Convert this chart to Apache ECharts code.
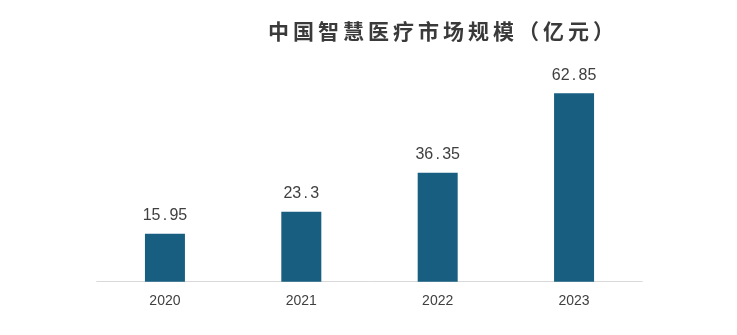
<!DOCTYPE html>
<html>
<head>
<meta charset="utf-8">
<script src="https://cdn.jsdelivr.net/npm/echarts@6/dist/echarts.min.js"></script>
<style>
  html, body { margin: 0; padding: 0; background: #fff; }
  #chart { width: 737px; height: 335px; }
</style>
</head>
<body>
<div id="chart"></div>
<script>
// Market size of smart healthcare in China, 100 million yuan
const titleText = '中国智慧医疗市场规模（亿元）';
const years = ['2020', '2021', '2022', '2023'];
const marketSize = [15.95, 23.3, 36.35, 62.85];

// Each title character sits in a fixed-width cell for wide tracking
const spacedTitle = Array.from(titleText).map(ch => '{c|' + ch + '}').join('');

// Value labels: the decimal point gets a wider cell
function valueLabel(p) {
  const parts = String(p.value).split('.');
  return parts.length > 1 ? '{d|' + parts[0] + '}{p|.}{d|' + parts[1] + '}' : '{d|' + parts[0] + '}';
}

const chart = echarts.init(document.getElementById('chart'), null, { renderer: 'canvas' });
chart.setOption({
  animation: false,
  backgroundColor: '#ffffff',
  title: {
    text: spacedTitle,
    left: 436,
    textAlign: 'center',
    top: 16,
    textStyle: {
      rich: {
        c: {
          width: 25,
          align: 'center',
          fontFamily: 'Noto Sans CJK SC',
          fontSize: 21,
          fontWeight: 'bold',
          color: '#3a3a3a'
        }
      }
    }
  },
  grid: { left: 96.75, right: 94.75, top: 71.7, bottom: 53.3 },
  xAxis: {
    type: 'category',
    data: years,
    axisLine: { lineStyle: { color: '#d9d9d9', width: 1 } },
    axisTick: { show: false },
    axisLabel: {
      color: '#404040',
      fontFamily: 'Liberation Sans',
      fontSize: 14,
      margin: 12
    }
  },
  yAxis: {
    type: 'value',
    min: 0,
    max: 70,
    show: false,
    splitLine: { show: false }
  },
  series: [{
    type: 'bar',
    data: marketSize,
    barWidth: 40,
    itemStyle: { color: '#175e80' },
    label: {
      show: true,
      position: 'top',
      distance: 10,
      formatter: valueLabel,
      rich: {
        d: { fontFamily: 'Liberation Sans', fontSize: 16, color: '#404040' },
        p: { fontFamily: 'Liberation Sans', fontSize: 16, color: '#404040', width: 9, align: 'left' }
      }
    }
  }]
});
</script>
</body>
</html>
